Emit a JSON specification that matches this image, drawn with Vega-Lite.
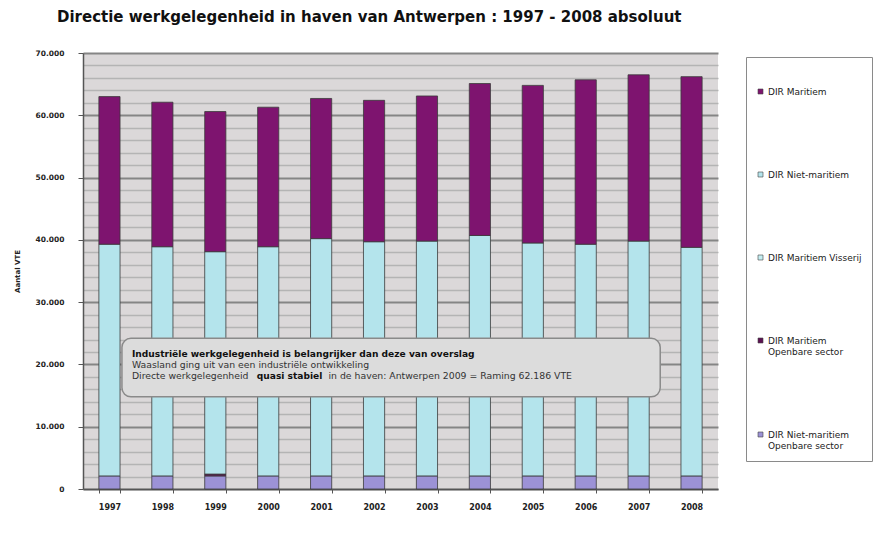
{
  "$schema": "https://vega.github.io/schema/vega-lite/v6.json",
  "autosize": {"type": "none"},
  "width": 635,
  "height": 436,
  "padding": {"left": 83, "top": 53, "right": 167, "bottom": 45},
  "background": "white",
  "config": {
    "font": "DejaVu Sans",
    "view": {"stroke": null, "fill": "#dbd8d9"}
  },
  "title": {
    "text": "Directie werkgelegenheid  in haven van Antwerpen : 1997 - 2008 absoluut",
    "fontSize": 15,
    "fontWeight": "bold",
    "color": "#111111",
    "anchor": "start",
    "frame": "group",
    "dx": -26,
    "offset": 24
  },
  "datasets": {
    "jobs": [
      {"year": "1997", "series": "DIR Niet-maritiem Openbare sector", "k": 1, "value": 2100},
      {"year": "1997", "series": "DIR Niet-maritiem", "k": 4, "value": 37200},
      {"year": "1997", "series": "DIR Maritiem", "k": 5, "value": 23700},
      {"year": "1998", "series": "DIR Niet-maritiem Openbare sector", "k": 1, "value": 2100},
      {"year": "1998", "series": "DIR Niet-maritiem", "k": 4, "value": 36800},
      {"year": "1998", "series": "DIR Maritiem", "k": 5, "value": 23200},
      {"year": "1999", "series": "DIR Niet-maritiem Openbare sector", "k": 1, "value": 2100},
      {"year": "1999", "series": "DIR Maritiem Openbare sector", "k": 2, "value": 300},
      {"year": "1999", "series": "DIR Niet-maritiem", "k": 4, "value": 35700},
      {"year": "1999", "series": "DIR Maritiem", "k": 5, "value": 22500},
      {"year": "2000", "series": "DIR Niet-maritiem Openbare sector", "k": 1, "value": 2100},
      {"year": "2000", "series": "DIR Niet-maritiem", "k": 4, "value": 36800},
      {"year": "2000", "series": "DIR Maritiem", "k": 5, "value": 22400},
      {"year": "2001", "series": "DIR Niet-maritiem Openbare sector", "k": 1, "value": 2100},
      {"year": "2001", "series": "DIR Niet-maritiem", "k": 4, "value": 38100},
      {"year": "2001", "series": "DIR Maritiem", "k": 5, "value": 22500},
      {"year": "2002", "series": "DIR Niet-maritiem Openbare sector", "k": 1, "value": 2100},
      {"year": "2002", "series": "DIR Niet-maritiem", "k": 4, "value": 37600},
      {"year": "2002", "series": "DIR Maritiem", "k": 5, "value": 22700},
      {"year": "2003", "series": "DIR Niet-maritiem Openbare sector", "k": 1, "value": 2100},
      {"year": "2003", "series": "DIR Niet-maritiem", "k": 4, "value": 37700},
      {"year": "2003", "series": "DIR Maritiem", "k": 5, "value": 23300},
      {"year": "2004", "series": "DIR Niet-maritiem Openbare sector", "k": 1, "value": 2100},
      {"year": "2004", "series": "DIR Niet-maritiem", "k": 4, "value": 38600},
      {"year": "2004", "series": "DIR Maritiem", "k": 5, "value": 24400},
      {"year": "2005", "series": "DIR Niet-maritiem Openbare sector", "k": 1, "value": 2100},
      {"year": "2005", "series": "DIR Niet-maritiem", "k": 4, "value": 37400},
      {"year": "2005", "series": "DIR Maritiem", "k": 5, "value": 25300},
      {"year": "2006", "series": "DIR Niet-maritiem Openbare sector", "k": 1, "value": 2100},
      {"year": "2006", "series": "DIR Niet-maritiem", "k": 4, "value": 37200},
      {"year": "2006", "series": "DIR Maritiem", "k": 5, "value": 26400},
      {"year": "2007", "series": "DIR Niet-maritiem Openbare sector", "k": 1, "value": 2100},
      {"year": "2007", "series": "DIR Niet-maritiem", "k": 4, "value": 37700},
      {"year": "2007", "series": "DIR Maritiem", "k": 5, "value": 26700},
      {"year": "2008", "series": "DIR Niet-maritiem Openbare sector", "k": 1, "value": 2100},
      {"year": "2008", "series": "DIR Niet-maritiem", "k": 4, "value": 36700},
      {"year": "2008", "series": "DIR Maritiem", "k": 5, "value": 27400}
    ],
    "note": [
      {"x1": "1997", "x2": "2007", "y1": 14800, "y2": 24200}
    ],
    "line1": [
      {"year": "1997", "y": 21700, "text": "Industriële werkgelegenheid is belangrijker dan deze van overslag"}
    ],
    "line23": [
      {"year": "1997", "y": 19900, "text": "Waasland ging uit van een industriële ontwikkeling"},
      {"year": "1997", "y": 18100, "text": "Directe werkgelegenheid"}
    ],
    "lineBold": [
      {"year": "2000", "y": 18100, "text": "quasi stabiel"}
    ],
    "lineRest": [
      {"year": "2001", "y": 18100, "text": "in de haven: Antwerpen 2009 = Raming 62.186 VTE"}
    ]
  },
  "layer": [
    {
      "data": {"name": "jobs"},
      "mark": {"type": "bar", "stroke": "#3a3a3a", "strokeWidth": 0.8},
      "encoding": {
        "x": {
          "field": "year", "type": "nominal",
          "scale": {"paddingInner": 0.6, "paddingOuter": 0.3},
          "axis": {
            "title": null, "labelAngle": 0, "labelFontSize": 8, "labelFontWeight": "bold",
            "labelColor": "#222222", "labelPadding": 10, "tickBand": "extent", "tickSize": 4,
            "tickColor": "#555555", "domainColor": "#555555", "domainWidth": 1.5
          }
        },
        "y": {
          "field": "value", "type": "quantitative", "stack": "zero",
          "scale": {"domain": [0, 70000], "nice": false},
          "axis": {
            "title": "Aantal VTE", "titleFontSize": 7, "titleFontWeight": "bold", "titleColor": "#222222",
            "titleX": -63,
            "tickCount": 40,
            "values": [0, 2000, 4000, 6000, 8000, 10000, 12000, 14000, 16000, 18000, 20000, 22000, 24000, 26000, 28000, 30000, 32000, 34000, 36000, 38000, 40000, 42000, 44000, 46000, 48000, 50000, 52000, 54000, 56000, 58000, 60000, 62000, 64000, 66000, 68000, 70000],
            "labelExpr": "datum.value % 10000 === 0 ? replace(format(datum.value, ','), ',', '.') : ''",
            "labelOverlap": false,
            "labelFontSize": 7.5, "labelFontWeight": "bold", "labelColor": "#222222", "labelPadding": 14,
            "tickSize": 5, "tickColor": "#555555",
            "tickOpacity": {"condition": {"test": "datum.value % 10000 === 0", "value": 1}, "value": 0},
            "domainColor": "#555555", "domainWidth": 1.5,
            "grid": true,
            "gridColor": {"condition": {"test": "datum.value % 10000 === 0", "value": "#858585"}, "value": "#b4b4b4"},
            "gridWidth": {"condition": {"test": "datum.value % 10000 === 0", "value": 2}, "value": 1.5}
          }
        },
        "color": {
          "field": "series", "type": "nominal",
          "scale": {
            "domain": ["DIR Maritiem", "DIR Niet-maritiem", "DIR Maritiem Visserij", "DIR Maritiem Openbare sector", "DIR Niet-maritiem Openbare sector"],
            "range": ["#7e146f", "#b4e4ec", "#c4eef2", "#5c1052", "#9c92d6"]
          },
          "legend": {
            "title": " ", "titleFontSize": 10, "titlePadding": 10,
            "orient": "none", "legendX": 663, "legendY": 4,
            "direction": "vertical",
            "labelFontSize": 9, "labelColor": "#222222", "labelLimit": 200, "labelOffset": 3,
            "labelExpr": "datum.label == 'DIR Maritiem Openbare sector' ? ['DIR Maritiem', 'Openbare sector'] : datum.label == 'DIR Niet-maritiem Openbare sector' ? ['DIR Niet-maritiem', 'Openbare sector'] : datum.label",
            "symbolType": "square", "symbolSize": 25, "symbolStrokeWidth": 0.6, "symbolStrokeColor": "#444444",
            "rowPadding": 73, "padding": 10,
            "strokeColor": "#8a8a8a", "fillColor": "#ffffff"
          }
        },
        "order": {"field": "k", "type": "quantitative"}
      }
    },
    {
      "data": {"name": "note"},
      "mark": {"type": "rect", "cornerRadius": 9, "fill": "#dcdcdc", "stroke": "#8a8a8a", "strokeWidth": 1.5},
      "encoding": {
        "x": {"field": "x1", "type": "nominal", "bandPosition": 1.09},
        "x2": {"field": "x2", "bandPosition": 1.52},
        "y": {"field": "y1", "type": "quantitative"},
        "y2": {"field": "y2"}
      }
    },
    {
      "data": {"name": "line1"},
      "mark": {"type": "text", "align": "left", "baseline": "middle", "fontSize": 9.1, "fontWeight": "bold", "color": "#111111"},
      "encoding": {
        "x": {"field": "year", "type": "nominal", "bandPosition": 1.56},
        "y": {"field": "y", "type": "quantitative"},
        "text": {"field": "text"}
      }
    },
    {
      "data": {"name": "line23"},
      "mark": {"type": "text", "align": "left", "baseline": "middle", "fontSize": 9.3, "color": "#333333"},
      "encoding": {
        "x": {"field": "year", "type": "nominal", "bandPosition": 1.56},
        "y": {"field": "y", "type": "quantitative"},
        "text": {"field": "text"}
      }
    },
    {
      "data": {"name": "lineBold"},
      "mark": {"type": "text", "align": "left", "baseline": "middle", "fontSize": 9.1, "fontWeight": "bold", "color": "#111111"},
      "encoding": {
        "x": {"field": "year", "type": "nominal", "bandPosition": -0.04},
        "y": {"field": "y", "type": "quantitative"},
        "text": {"field": "text"}
      }
    },
    {
      "data": {"name": "lineRest"},
      "mark": {"type": "text", "align": "left", "baseline": "middle", "fontSize": 9.3, "color": "#333333"},
      "encoding": {
        "x": {"field": "year", "type": "nominal", "bandPosition": 0.85},
        "y": {"field": "y", "type": "quantitative"},
        "text": {"field": "text"}
      }
    }
  ]
}
